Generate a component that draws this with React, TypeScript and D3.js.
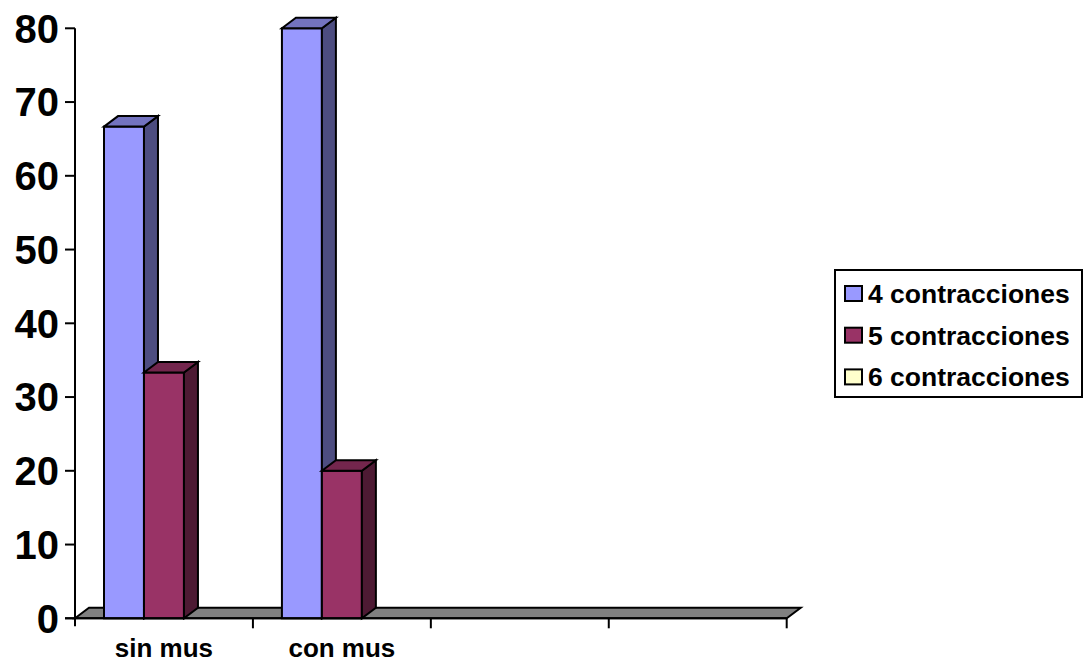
import React from "react";
import * as d3 from "d3";

const categories: string[] = ["sin mus", "con mus", "", ""];
const seriesNames: string[] = ["4 contracciones", "5 contracciones", "6 contracciones"];
const values4: (number | null)[] = [66.67, 80, null, null];
const values5: (number | null)[] = [33.33, 20, null, null];
const values6: (number | null)[] = [null, null, null, null];
const yTicks: number[] = [0, 10, 20, 30, 40, 50, 60, 70, 80];

const palette = [
  { front: "#9999FF", side: "#4D4D80", top: "#7373BF" },
  { front: "#993366", side: "#4D1A33", top: "#73264D" },
  { front: "#FFFFCC", side: "#808066", top: "#BFBF99" },
];

const W = 1086;
const H = 664;
const FONT = "'Liberation Sans', Arial, Helvetica, sans-serif";
const DX = 14;
const DY = -10.5;

export default function App() {
  const series = [values4, values5, values6];
  const y = d3.scaleLinear().domain([0, 80]).range([618.3, 28.3]);
  const x = d3
    .scaleBand<number>()
    .domain(categories.map((_, i) => i))
    .range([75, 786.7])
    .paddingInner(0)
    .paddingOuter(0);
  const bw = x.bandwidth();
  const inner = d3
    .scaleBand<number>()
    .domain(seriesNames.map((_, i) => i))
    .range([29, bw - 29])
    .padding(0);
  const barW = inner.bandwidth();
  const y0 = y(0);
  const x0 = x.range()[0];
  const x1 = x.range()[1];

  const pts = (p: [number, number][]) => p.map((q) => q.join(",")).join(" ");

  const bars: React.ReactNode[] = [];
  categories.forEach((_, ci) => {
    series.forEach((vals, si) => {
      const v = vals[ci];
      if (v == null) return;
      const left = (x(ci) as number) + (inner(si) as number);
      const right = left + barW;
      const top = y(v);
      const c = palette[si];
      bars.push(
        <g key={`b-${ci}-${si}`} stroke="#000" strokeWidth={2} strokeLinejoin="miter">
          <rect x={left} y={top} width={barW} height={y0 - top} fill={c.front} />
          <polygon
            points={pts([
              [right, top],
              [right + DX, top + DY],
              [right + DX, y0 + DY],
              [right, y0],
            ])}
            fill={c.side}
          />
          <polygon
            points={pts([
              [left, top],
              [left + DX, top + DY],
              [right + DX, top + DY],
              [right, top],
            ])}
            fill={c.top}
          />
        </g>
      );
    });
  });

  return (
    <svg
      width={W}
      height={H}
      style={{ position: "absolute", left: 0, top: 0, background: "#fff" }}
      fontFamily={FONT}
    >
      {/* floor */}
      <polygon
        points={pts([
          [x0, y0],
          [x0 + DX, y0 + DY],
          [x1 + DX, y0 + DY],
          [x1, y0],
        ])}
        fill="#808080"
        stroke="#000"
        strokeWidth={2}
      />
      {bars}
      {/* value axis */}
      <line x1={x0} x2={x0} y1={y(80)} y2={y0 + 8} stroke="#000" strokeWidth={2} />
      {yTicks.map((t) => (
        <g key={`yt-${t}`}>
          <line x1={x0 - 10} x2={x0} y1={y(t)} y2={y(t)} stroke="#000" strokeWidth={2} />
          <text
            x={x0 - 16}
            y={y(t)}
            dy="0.36em"
            textAnchor="end"
            fontSize={40}
            fontWeight="bold"
            fill="#000"
          >
            {t}
          </text>
        </g>
      ))}
      {/* category axis */}
      <line x1={x0 - 10} x2={x1} y1={y0} y2={y0} stroke="#000" strokeWidth={2} />
      {categories.map((_, i) => (
        <line
          key={`xt-${i}`}
          x1={(x(i) as number) + bw}
          x2={(x(i) as number) + bw}
          y1={y0}
          y2={y0 + 10}
          stroke="#000"
          strokeWidth={2}
        />
      ))}
      {categories.map((c, i) => (
        <text
          key={`xl-${i}`}
          x={(x(i) as number) + bw / 2}
          y={657}
          textAnchor="middle"
          fontSize={26}
          fontWeight="bold"
          fill="#000"
        >
          {c}
        </text>
      ))}
      {/* legend */}
      <g>
        <rect x={835} y={270} width={247} height={127} fill="#fff" stroke="#000" strokeWidth={2} />
        {seriesNames.map((n, i) => {
          const cy = 293.5 + i * 41.7;
          return (
            <g key={`lg-${i}`}>
              <rect
                x={845}
                y={cy - 7.5}
                width={17}
                height={15}
                fill={palette[i].front}
                stroke="#000"
                strokeWidth={2}
              />
              <text x={868} y={cy} dy="0.36em" fontSize={26.5} fontWeight="bold" fill="#000">
                {n}
              </text>
            </g>
          );
        })}
      </g>
    </svg>
  );
}
